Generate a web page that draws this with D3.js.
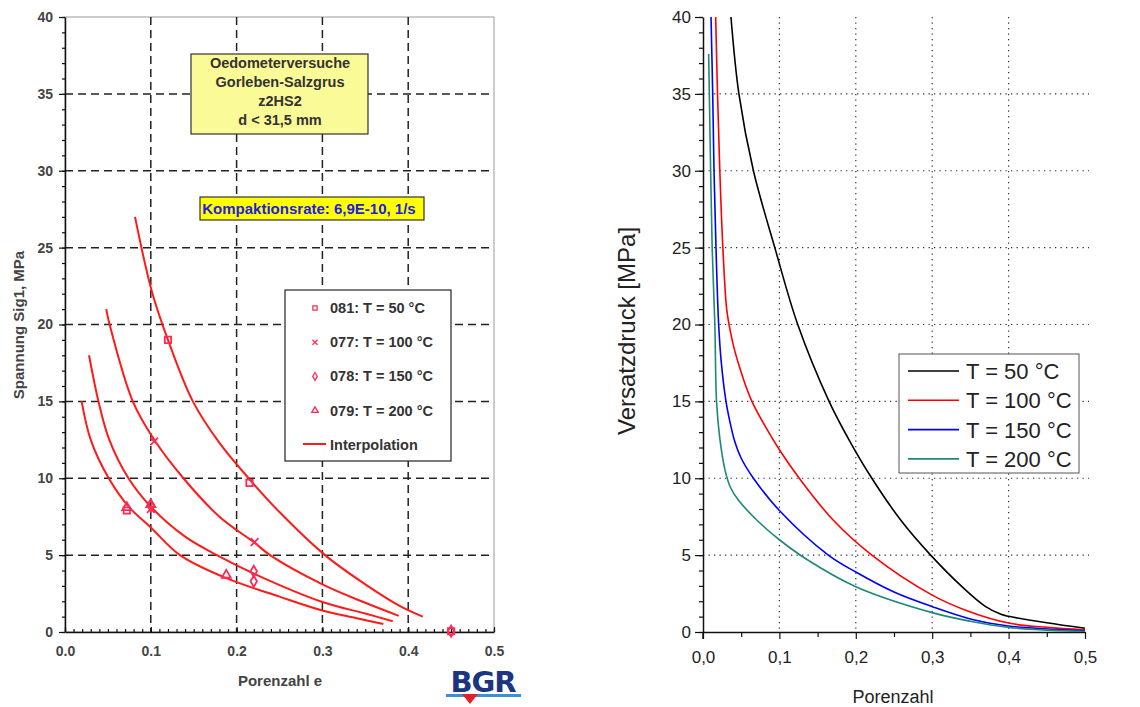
<!DOCTYPE html>
<html>
<head>
<meta charset="utf-8">
<script src="https://cdn.jsdelivr.net/npm/d3@7"></script>
<style>
  body { margin: 0; background: #fff; }
  svg { display: block; font-family: "Liberation Sans", Arial, sans-serif; }
</style>
</head>
<body>
<div id="chart"></div>
<script>
// ---- data: left chart (BGR oedometer tests) ----
var leftXTicks = [0, 0.1, 0.2, 0.3, 0.4, 0.5]
var leftYTicks = [0, 5, 10, 15, 20, 25, 30, 35, 40]
var boxLines = ["Oedometerversuche", "Gorleben-Salzgrus", "z2HS2", "d < 31,5 mm"]
var rateText = "Kompaktionsrate: 6,9E-10, 1/s"
var leftLegend = ["081: T = 50 °C", "077: T = 100 °C", "078: T = 150 °C", "079: T = 200 °C", "Interpolation"]

var interp50 = [[0.0816, 27.0], [0.101, 22.2], [0.12, 19.0], [0.149, 15], [0.18, 12.3], [0.214, 10], [0.25, 7.8], [0.303, 5], [0.35, 3.1], [0.39, 1.7], [0.417, 1.0]]
var interp100 = [[0.048, 21.0], [0.052, 20], [0.079, 15], [0.104, 12.5], [0.138, 10], [0.18, 7.5], [0.221, 5.8], [0.239, 5.0], [0.3, 3.1], [0.35, 1.9], [0.389, 1.05]]
var interp150 = [[0.028, 18], [0.039, 15], [0.051, 12.6], [0.074, 10], [0.1, 8.15], [0.14, 6.2], [0.177, 5], [0.22, 3.8], [0.3, 1.95], [0.35, 1.2], [0.382, 0.7]]
var interp200 = [[0.0194, 15], [0.03, 12.5], [0.051, 10], [0.075, 8.1], [0.1, 6.8], [0.134, 5], [0.188, 3.5], [0.25, 2.3], [0.3, 1.4], [0.34, 0.9], [0.371, 0.52]]

var pts50 = [[0.12, 19.0], [0.215, 9.7], [0.072, 7.9], [0.45, 0.05]]
var pts100 = [[0.104, 12.4], [0.221, 5.85], [0.1, 8.0]]
var pts150 = [[0.1, 8.2], [0.22, 3.95], [0.22, 3.3], [0.45, 0.05]]
var pts200 = [[0.072, 8.1], [0.188, 3.7], [0.1, 8.3]]

// ---- data: right chart (model curves) ----
var rightXTicks = [0, 0.1, 0.2, 0.3, 0.4, 0.5]
var rightYTicks = [0, 5, 10, 15, 20, 25, 30, 35, 40]
var rightLegend = ["T = 50 °C", "T = 100 °C", "T = 150 °C", "T = 200 °C"]

var model50 = [[0.0366, 40], [0.047, 35], [0.066, 30], [0.094, 25], [0.124, 20], [0.165, 15], [0.19, 12.6], [0.221, 10], [0.26, 7.2], [0.298, 5], [0.34, 2.9], [0.37, 1.65], [0.39, 1.15], [0.4, 1.02], [0.45, 0.6], [0.5, 0.24]]
var model100 = [[0.0166, 40], [0.019, 35], [0.022, 30], [0.026, 25], [0.031, 21], [0.036, 19.5], [0.041, 18.4], [0.048, 17.2], [0.056, 16.0], [0.064, 15], [0.08, 13.5], [0.1, 11.85], [0.126, 10], [0.17, 7.3], [0.221, 5], [0.3, 2.4], [0.35, 1.3], [0.4, 0.58], [0.45, 0.3], [0.5, 0.15]]
var model150 = [[0.0105, 40], [0.0127, 35], [0.0144, 30], [0.017, 25], [0.0205, 20], [0.024, 17.5], [0.0301, 15], [0.036, 13.5], [0.0415, 12.4], [0.05, 11.3], [0.066, 10], [0.1, 7.9], [0.164, 5], [0.2, 3.9], [0.25, 2.6], [0.3, 1.65], [0.35, 0.85], [0.4, 0.39], [0.45, 0.2], [0.5, 0.08]]
var model200 = [[0.0074, 37.6], [0.0083, 35], [0.010, 30], [0.012, 25], [0.0155, 20], [0.0177, 15], [0.022, 12.6], [0.029, 10.5], [0.036, 9.4], [0.046, 8.6], [0.07, 7.3], [0.1, 6.0], [0.135, 4.75], [0.2, 2.95], [0.3, 1.26], [0.35, 0.7], [0.4, 0.3], [0.45, 0.12], [0.5, 0.03]]

var width = 1140, height = 707

var svg = d3.select("#chart")
  .append("svg")
  .attr("width", width)
  .attr("height", height)

svg.append("rect").attr("width", width).attr("height", height).attr("fill", "#fff")

// ================= LEFT CHART =================
var xL = d3.scaleLinear().domain([0, 0.5]).range([65, 494])
var yL = d3.scaleLinear().domain([0, 40]).range([632, 17])

var left = svg.append("g").attr("class", "left")

// frame (top/right)
left.append("rect")
  .attr("x", xL(0)).attr("y", yL(40))
  .attr("width", xL(0.5) - xL(0)).attr("height", yL(0) - yL(40))
  .attr("fill", "none").attr("stroke", "#999").attr("stroke-width", 1)

// dashed grid
left.append("g")
  .selectAll("line.h")
  .data(leftYTicks.filter(d => d > 0 && d < 40))
  .enter().append("line")
  .attr("x1", xL(0)).attr("x2", xL(0.5))
  .attr("y1", d => yL(d)).attr("y2", d => yL(d))
  .attr("stroke", "#222").attr("stroke-width", 1.5).attr("stroke-dasharray", "8,5")

left.append("g")
  .selectAll("line.v")
  .data(leftXTicks.filter(d => d > 0 && d < 0.5))
  .enter().append("line")
  .attr("x1", d => xL(d)).attr("x2", d => xL(d))
  .attr("y1", yL(40)).attr("y2", yL(0))
  .attr("stroke", "#222").attr("stroke-width", 1.5).attr("stroke-dasharray", "8,5")

// y axis
var yAxisL = left.append("g")
  .attr("transform", `translate(${xL(0)},0)`)
  .call(d3.axisLeft(yL).tickValues(leftYTicks).tickSize(6).tickSizeOuter(0).tickFormat(d3.format("d")))
left.append("g")
  .attr("transform", `translate(${xL(0)},0)`)
  .call(d3.axisLeft(yL).tickValues(d3.range(0, 41, 1)).tickSize(3).tickSizeOuter(0).tickFormat(""))
  .select(".domain").remove()

// x axis
var xAxisL = left.append("g")
  .attr("transform", `translate(0,${yL(0)})`)
  .call(d3.axisBottom(xL).tickValues(leftXTicks).tickSize(-5).tickSizeOuter(0).tickPadding(14).tickFormat(d3.format(".1f")))
left.append("g")
  .attr("transform", `translate(0,${yL(0)})`)
  .call(d3.axisBottom(xL).tickValues(d3.range(0, 51, 1).map(d => d / 100)).tickSize(-3).tickSizeOuter(0).tickFormat(""))
  .select(".domain").remove()

left.selectAll(".domain").attr("stroke", "#111").attr("stroke-width", 1.5)
left.selectAll(".tick line").attr("stroke", "#111").attr("stroke-width", 1.2)
left.selectAll(".tick text")
  .style("font-size", "14px").style("font-weight", "bold").style("fill", "#444")
  .style("font-family", "'Liberation Sans', Arial, sans-serif")
yAxisL.selectAll(".tick text").attr("dx", "-3")

left.append("text")
  .attr("transform", `translate(24,325) rotate(-90)`)
  .attr("text-anchor", "middle")
  .style("font-size", "15px").style("font-weight", "bold").style("fill", "#444")
  .text("Spannung Sig1,  MPa")

left.append("text")
  .attr("x", 280).attr("y", 686)
  .attr("text-anchor", "middle")
  .style("font-size", "15px").style("font-weight", "bold").style("fill", "#444")
  .text("Porenzahl e")

// title box
left.append("rect")
  .attr("x", 191).attr("y", 54).attr("width", 177).attr("height", 80)
  .attr("fill", "#fafa96").attr("stroke", "#333").attr("stroke-width", 1.2)
left.append("g").selectAll("text")
  .data(boxLines)
  .enter().append("text")
  .attr("x", 280).attr("y", (d, i) => 68 + i * 19)
  .attr("text-anchor", "middle")
  .style("font-size", "14.5px").style("font-weight", "bold").style("fill", "#333")
  .text(d => d)

left.append("rect")
  .attr("x", 200).attr("y", 197).attr("width", 224).attr("height", 23)
  .attr("fill", "#ffff00").attr("stroke", "#333").attr("stroke-width", 1.2)
left.append("text")
  .attr("x", 309).attr("y", 214)
  .attr("text-anchor", "middle")
  .style("font-size", "15px").style("font-weight", "bold").style("fill", "#2020e0")
  .text(rateText)

// interpolation curves
var lineL = d3.line()
  .x(d => xL(d[0]))
  .y(d => yL(d[1]))
  .curve(d3.curveCatmullRom.alpha(0.5))

left.append("g").selectAll("path")
  .data([interp50, interp100, interp150, interp200])
  .enter().append("path")
  .attr("d", d => lineL(d))
  .attr("fill", "none").attr("stroke", "#ff1a1a").attr("stroke-width", 2)

// markers
var mColor = "#ff2a55"
var symSquare = d3.symbol().type(d3.symbolSquare).size(40)
var symCross = d3.symbol().type(d3.symbolX).size(40)
var symDiamond = d3.symbol().type(d3.symbolDiamond).size(36)
var symTriangle = d3.symbol().type(d3.symbolTriangle).size(36)

function drawPts(data, sym) {
  left.append("g").selectAll("path")
    .data(data)
    .enter().append("path")
    .attr("transform", d => `translate(${xL(d[0])},${yL(d[1])})`)
    .attr("d", sym)
    .attr("fill", "none").attr("stroke", mColor).attr("stroke-width", 1.8)
}
drawPts(pts50, symSquare)
drawPts(pts100, symCross)
drawPts(pts150, symDiamond)
drawPts(pts200, symTriangle)

// legend
var legL = left.append("g")
legL.append("rect")
  .attr("x", 285).attr("y", 290).attr("width", 166).attr("height", 171)
  .attr("fill", "#fff").attr("stroke", "#222").attr("stroke-width", 1.2)
var legSyms = [symSquare, symCross, symDiamond, symTriangle]
legL.selectAll("text")
  .data(leftLegend)
  .enter().append("text")
  .attr("x", 330).attr("y", (d, i) => 313 + i * 34.2)
  .style("font-size", "14.5px").style("font-weight", "bold").style("fill", "#333")
  .text(d => d)
legL.selectAll("path.sym")
  .data(legSyms)
  .enter().append("path")
  .attr("class", "sym")
  .attr("transform", (d, i) => `translate(315,${308 + i * 34.2})`)
  .attr("d", (d) => d.size(18)())
  .attr("fill", "none").attr("stroke", mColor).attr("stroke-width", 1.3)
legL.append("line")
  .attr("x1", 303).attr("x2", 326).attr("y1", 444).attr("y2", 444)
  .attr("stroke", "#ff1a1a").attr("stroke-width", 2)

// BGR logo
var logo = left.append("g")
logo.append("text")
  .attr("x", 483).attr("y", 692)
  .attr("text-anchor", "middle")
  .style("font-size", "29px").style("font-weight", "900").style("fill", "#1c3581")
  .style("font-family", "'DejaVu Sans', 'Liberation Sans', sans-serif")
  .style("letter-spacing", "-1px")
  .text("BGR")
logo.append("rect").attr("x", 446).attr("y", 694).attr("width", 75).attr("height", 3).attr("fill", "#3a8fd8")
logo.append("path").attr("d", "M462,694 L478,694 L470,704 Z").attr("fill", "#e0202a")

// ================= RIGHT CHART =================
var xR = d3.scaleLinear().domain([0, 0.5]).range([703, 1085])
var yR = d3.scaleLinear().domain([0, 40]).range([632, 17])

var right = svg.append("g").attr("class", "right")

right.append("defs").append("clipPath").attr("id", "clipR")
  .append("rect").attr("x", xR(0)).attr("y", yR(40)).attr("width", xR(0.5) - xR(0) + 2).attr("height", yR(0) - yR(40))

// dotted grid
right.append("g").selectAll("line")
  .data(rightYTicks.filter(d => d > 0 && d < 40))
  .enter().append("line")
  .attr("x1", xR(0)).attr("x2", xR(0.5) + 4)
  .attr("y1", d => yR(d)).attr("y2", d => yR(d))
  .attr("stroke", "#333").attr("stroke-width", 1.2).attr("stroke-dasharray", "1.3,4.2")
right.append("g").selectAll("line")
  .data(rightXTicks.filter(d => d > 0 && d < 0.5))
  .enter().append("line")
  .attr("x1", d => xR(d)).attr("x2", d => xR(d))
  .attr("y1", yR(40)).attr("y2", yR(0))
  .attr("stroke", "#333").attr("stroke-width", 1.2).attr("stroke-dasharray", "1.3,4.2")

// axes
var yAxisR = right.append("g")
  .attr("transform", `translate(${xR(0)},0)`)
  .call(d3.axisLeft(yR).tickValues(rightYTicks).tickSize(8).tickSizeOuter(0).tickPadding(4).tickFormat(d3.format("d")))
right.append("g")
  .attr("transform", `translate(${xR(0)},0)`)
  .call(d3.axisLeft(yR).tickValues(d3.range(0, 41, 1)).tickSize(4).tickSizeOuter(0).tickFormat(""))
  .select(".domain").remove()

var xAxisR = right.append("g")
  .attr("transform", `translate(0,${yR(0)})`)
  .call(d3.axisBottom(xR).tickValues(rightXTicks).tickSize(7).tickSizeOuter(0).tickPadding(12)
    .tickFormat(d => d3.format(".1f")(d).replace(".", ",")))
right.append("g")
  .attr("transform", `translate(0,${yR(0)})`)
  .call(d3.axisBottom(xR).tickValues([0.05, 0.15, 0.25, 0.35, 0.45]).tickSize(5).tickSizeOuter(0).tickFormat(""))
  .select(".domain").remove()

right.selectAll(".domain").attr("stroke", "#111").attr("stroke-width", 1.5)
right.selectAll(".tick line").attr("stroke", "#111").attr("stroke-width", 1.2)
right.selectAll(".tick text")
  .style("font-size", "17px").style("fill", "#222")
  .style("font-family", "'Liberation Sans', Arial, sans-serif")

right.append("line")
  .attr("x1", xR(0)).attr("x2", xR(0)).attr("y1", yR(0)).attr("y2", yR(0) + 7)
  .attr("stroke", "#111").attr("stroke-width", 1.5)

right.append("text")
  .attr("transform", `translate(635,331) rotate(-90)`)
  .attr("text-anchor", "middle")
  .style("font-size", "24px").style("fill", "#222")
  .text("Versatzdruck [MPa]")

right.append("text")
  .attr("x", 893).attr("y", 703)
  .attr("text-anchor", "middle")
  .style("font-size", "18px").style("fill", "#222")
  .text("Porenzahl")

// model curves
var lineR = d3.line()
  .x(d => xR(d[0]))
  .y(d => yR(d[1]))
  .curve(d3.curveCatmullRom.alpha(0.5))

var rColors = ["#000000", "#ff0000", "#0000ff", "#1b8a78"]
right.append("g").attr("clip-path", "url(#clipR)")
  .selectAll("path")
  .data([model50, model100, model150, model200])
  .enter().append("path")
  .attr("d", d => lineR(d))
  .attr("fill", "none")
  .attr("stroke", (d, i) => rColors[i])
  .attr("stroke-width", 1.6)

// legend
var legR = right.append("g")
legR.append("rect")
  .attr("x", 899).attr("y", 354).attr("width", 180).attr("height", 119)
  .attr("fill", "#fff").attr("stroke", "#555").attr("stroke-width", 1)
legR.selectAll("line")
  .data(rightLegend)
  .enter().append("line")
  .attr("x1", 908).attr("x2", 959)
  .attr("y1", (d, i) => 371 + i * 29.3).attr("y2", (d, i) => 371 + i * 29.3)
  .attr("stroke", (d, i) => rColors[i]).attr("stroke-width", 1.6)
legR.selectAll("text")
  .data(rightLegend)
  .enter().append("text")
  .attr("x", 966).attr("y", (d, i) => 379 + i * 29.3)
  .style("font-size", "22px").style("fill", "#222")
  .text(d => d)
</script>
</body>
</html>
